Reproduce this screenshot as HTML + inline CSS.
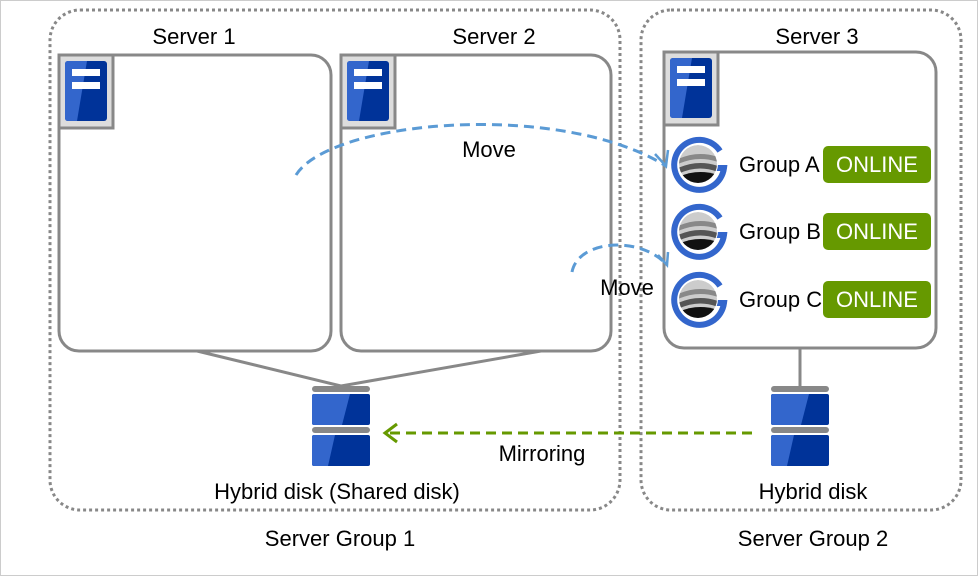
<!DOCTYPE html>
<html><head><meta charset="utf-8"><style>
html,body{margin:0;padding:0;background:#fff}
svg{display:block}
text{font-family:"Liberation Sans",Arial,sans-serif;font-size:22px;fill:#000}
</style></head><body>
<svg width="978" height="576" viewBox="0 0 978 576" xmlns="http://www.w3.org/2000/svg">
<defs>
<g id="srv">
<rect x="0" y="0" width="54" height="73" fill="#ddd" stroke="#888" stroke-width="3"/>
<rect x="6" y="6" width="42" height="60" rx="3" fill="#003399"/>
<path d="M9 6 H28 L18 66 H9 Q6 66 6 63 V9 Q6 6 9 6Z" fill="#3366cc"/>
<rect x="13" y="14" width="28" height="7" fill="#fff"/>
<rect x="13" y="27" width="28" height="7" fill="#fff"/>
</g>
<g id="disk">
<rect x="0" y="0" width="58" height="6" rx="3" fill="#888"/>
<rect x="0" y="8" width="58" height="31" rx="2" fill="#003399"/>
<path d="M2 8 H38 L30 39 H2 Q0 39 0 37 V10 Q0 8 2 8Z" fill="#3366cc"/>
<rect x="0" y="41" width="58" height="6" rx="3" fill="#888"/>
<rect x="0" y="49" width="58" height="31" rx="2" fill="#003399"/>
<path d="M2 49 H23 L16 80 H2 Q0 80 0 78 V51 Q0 49 2 49Z" fill="#3366cc"/>
</g>
<clipPath id="cc"><circle cx="0" cy="0" r="19"/></clipPath>
<g id="grp">
<path d="M22 -13 A25 25 0 1 0 26 4 L16 4" fill="none" stroke="#3366cc" stroke-width="6"/>
<circle cx="0" cy="0" r="20" fill="#fff"/>
<g clip-path="url(#cc)">
<circle cx="0" cy="0" r="19" fill="#ccc"/>
<path d="M-20 -5 Q0 -14 20 -7 L20 -2 Q0 -9 -20 0Z" fill="#888"/>
<path d="M-20 4 Q0 -5 20 2 L20 8 Q0 0 -20 10Z" fill="#555"/>
<path d="M-20 13 Q0 4 20 11 L20 22 L-20 22Z" fill="#111"/>
</g>
</g>
</defs>
<rect x="0.5" y="0.5" width="977" height="575" fill="#fff" stroke="#ccc"/>
<rect x="50" y="10" width="570" height="500" rx="30" fill="none" stroke="#888" stroke-width="3" stroke-dasharray="3,3"/>
<rect x="641" y="10" width="320" height="500" rx="30" fill="none" stroke="#888" stroke-width="3" stroke-dasharray="3,3"/>
<line x1="197" y1="351" x2="341" y2="386" stroke="#888" stroke-width="3"/>
<line x1="541" y1="351" x2="341" y2="386" stroke="#888" stroke-width="3"/>
<line x1="800" y1="348" x2="800" y2="386" stroke="#888" stroke-width="3"/>
<rect x="59" y="55" width="272" height="296" rx="20" fill="#fff" stroke="#888" stroke-width="3"/>
<rect x="341" y="55" width="270" height="296" rx="20" fill="#fff" stroke="#888" stroke-width="3"/>
<rect x="664" y="52" width="272" height="296" rx="20" fill="#fff" stroke="#888" stroke-width="3"/>
<use href="#srv" x="59" y="55"/>
<use href="#srv" x="341" y="55"/>
<use href="#srv" x="664" y="52"/>
<text x="194" y="44" text-anchor="middle">Server 1</text>
<text x="494" y="44" text-anchor="middle">Server 2</text>
<text x="817" y="44" text-anchor="middle">Server 3</text>
<use href="#grp" x="698" y="164"/>
<use href="#grp" x="698" y="231"/>
<use href="#grp" x="698" y="299"/>
<text x="739" y="172">Group A</text>
<text x="739" y="239">Group B</text>
<text x="739" y="307">Group C</text>
<rect x="823" y="146" width="108" height="37" rx="5" fill="#669900"/>
<rect x="823" y="213" width="108" height="37" rx="5" fill="#669900"/>
<rect x="823" y="281" width="108" height="37" rx="5" fill="#669900"/>
<text x="877" y="172" text-anchor="middle" style="fill:#fff">ONLINE</text>
<text x="877" y="239" text-anchor="middle" style="fill:#fff">ONLINE</text>
<text x="877" y="307" text-anchor="middle" style="fill:#fff">ONLINE</text>
<path d="M296 175 C330 120 560 100 666 166" fill="none" stroke="#5b9bd5" stroke-width="3" stroke-dasharray="10,6"/>
<path d="M655 154 L666 166 L668 150" fill="none" stroke="#5b9bd5" stroke-width="2.5"/>
<text x="489" y="157" text-anchor="middle">Move</text>
<path d="M572 272 C578 240 640 235 667 265" fill="none" stroke="#5b9bd5" stroke-width="3" stroke-dasharray="10,6"/>
<path d="M668 252 L667 265 L658 255" fill="none" stroke="#5b9bd5" stroke-width="2.5"/>
<text x="627" y="295" text-anchor="middle">Move</text>
<use href="#disk" x="312" y="386"/>
<use href="#disk" x="771" y="386"/>
<line x1="752" y1="433" x2="386" y2="433" stroke="#669900" stroke-width="3" stroke-dasharray="10,6"/>
<path d="M397 424 L385 433 L397 442" fill="none" stroke="#669900" stroke-width="3"/>
<text x="542" y="461" text-anchor="middle">Mirroring</text>
<text x="337" y="499" text-anchor="middle">Hybrid disk (Shared disk)</text>
<text x="813" y="499" text-anchor="middle">Hybrid disk</text>
<text x="340" y="546" text-anchor="middle">Server Group 1</text>
<text x="813" y="546" text-anchor="middle">Server Group 2</text>
</svg>
</body></html>
